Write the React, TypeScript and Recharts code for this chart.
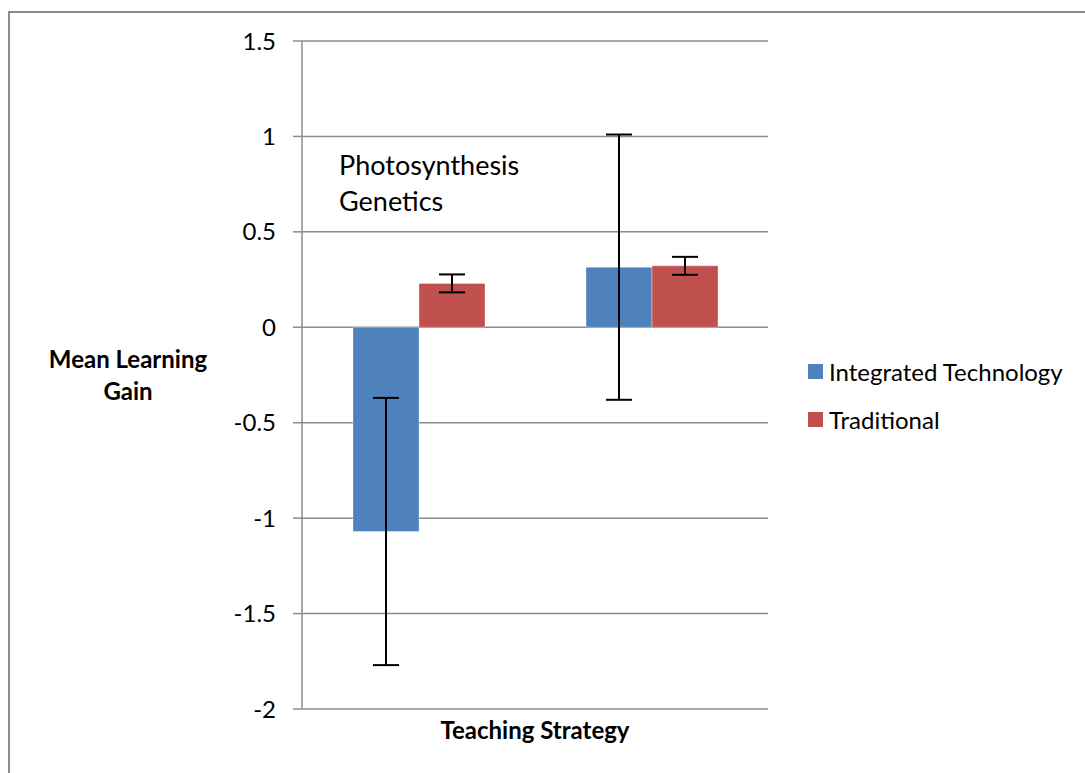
import React from 'react';
import { BarChart, Bar, XAxis, YAxis, CartesianGrid, ErrorBar, Legend, Label } from 'recharts';

const categories = ['Photosynthesis', 'Genetics'];
const integratedValues = [-1.07, 0.315];
const integratedErrors = [0.70, 0.695];
const traditionalValues = [0.23, 0.322];
const traditionalErrors = [0.047, 0.047];
const yTicks = [-2, -1.5, -1, -0.5, 0, 0.5, 1, 1.5];
const seriesNames = ['Integrated Technology', 'Traditional'];
const seriesColors = ['#4F81BD', '#C0504D'];

const data = categories.map((c, i) => ({
  category: c,
  integrated: integratedValues[i],
  integratedErr: integratedErrors[i],
  traditional: traditionalValues[i],
  traditionalErr: traditionalErrors[i],
}));

const FONT = 'Lato, "Open Sans", sans-serif';

const LegendContent = () => (
  <div style={{ fontFamily: FONT, fontSize: 24, color: '#000' }}>
    {seriesNames.map((n, i) => (
      <div key={n} style={{ display: 'flex', alignItems: 'center', height: 48 }}>
        <div style={{ width: 15, height: 15, background: seriesColors[i], marginRight: 6, flexShrink: 0 }} />
        <span style={{ whiteSpace: 'nowrap' }}>{n}</span>
      </div>
    ))}
  </div>
);

export default function App() {
  return (
    <div style={{ position: 'absolute', left: 0, top: 0, width: 1085, height: 773, overflow: 'hidden', background: '#fff' }}>
      <div style={{ position: 'absolute', left: 8, top: 11, width: 1100, height: 800, border: '2px solid #8c8c8c', boxSizing: 'border-box' }} />
      <div style={{ position: 'absolute', left: 0, top: 0 }}>
        <BarChart
          width={1085}
          height={773}
          data={data}
          margin={{ top: 41, right: 317, left: 0, bottom: 0 }}
          barGap={0}
        >
          <CartesianGrid vertical={false} stroke="#8c8c8c" strokeWidth={1.5} />
          <XAxis
            dataKey="category"
            height={64}
            tick={false}
            tickLine={false}
            axisLine={false}
          >
            <Label
              content={({ viewBox }: any) => (
                <text
                  x={viewBox.x + viewBox.width / 2}
                  y={viewBox.y + 30}
                  textAnchor="middle"
                  fontFamily={FONT}
                  fontWeight="bold"
                  fontSize={24}
                  fill="#000"
                >
                  Teaching Strategy
                </text>
              )}
            />
          </XAxis>
          <YAxis
            width={302}
            domain={[-2, 1.5]}
            ticks={yTicks}
            interval={0}
            tickSize={9}
            tickMargin={17}
            stroke="#8c8c8c"
            axisLine={{ stroke: '#8c8c8c', strokeWidth: 1.5 }}
            tickLine={{ stroke: '#8c8c8c', strokeWidth: 1.5 }}
            tick={{ fill: '#000', fontSize: 24, fontFamily: FONT }}
          >
            <Label
              content={({ viewBox }: any) => (
                <text
                  x={128}
                  y={viewBox.y + viewBox.height / 2}
                  textAnchor="middle"
                  fontFamily={FONT}
                  fontWeight="bold"
                  fontSize={24}
                  fill="#000"
                >
                  <tspan x={128} dy={-7}>Mean Learning</tspan>
                  <tspan x={128} dy={32}>Gain</tspan>
                </text>
              )}
            />
          </YAxis>
          <Legend
            layout="vertical"
            align="center"
            verticalAlign="middle"
            content={<LegendContent />}
            wrapperStyle={{ position: 'absolute', left: 808, top: 347, width: 280 }}
          />
          <Bar dataKey="integrated" name={seriesNames[0]} fill={seriesColors[0]} barSize={66} isAnimationActive={false} stroke="#ffffff" strokeOpacity={0.35} strokeWidth={1}>
            <ErrorBar dataKey="integratedErr" width={13} strokeWidth={2} stroke="#000" direction="y" />
          </Bar>
          <Bar dataKey="traditional" name={seriesNames[1]} fill={seriesColors[1]} barSize={66} isAnimationActive={false} stroke="#ffffff" strokeOpacity={0.35} strokeWidth={1}>
            <ErrorBar dataKey="traditionalErr" width={13} strokeWidth={2} stroke="#000" direction="y" />
          </Bar>
        </BarChart>
      </div>
      <div style={{ position: 'absolute', left: 339, top: 147, fontFamily: FONT, fontSize: 27, lineHeight: '36px', color: '#000' }}>
        {categories.map((c) => (
          <div key={c}>{c}</div>
        ))}
      </div>
    </div>
  );
}
